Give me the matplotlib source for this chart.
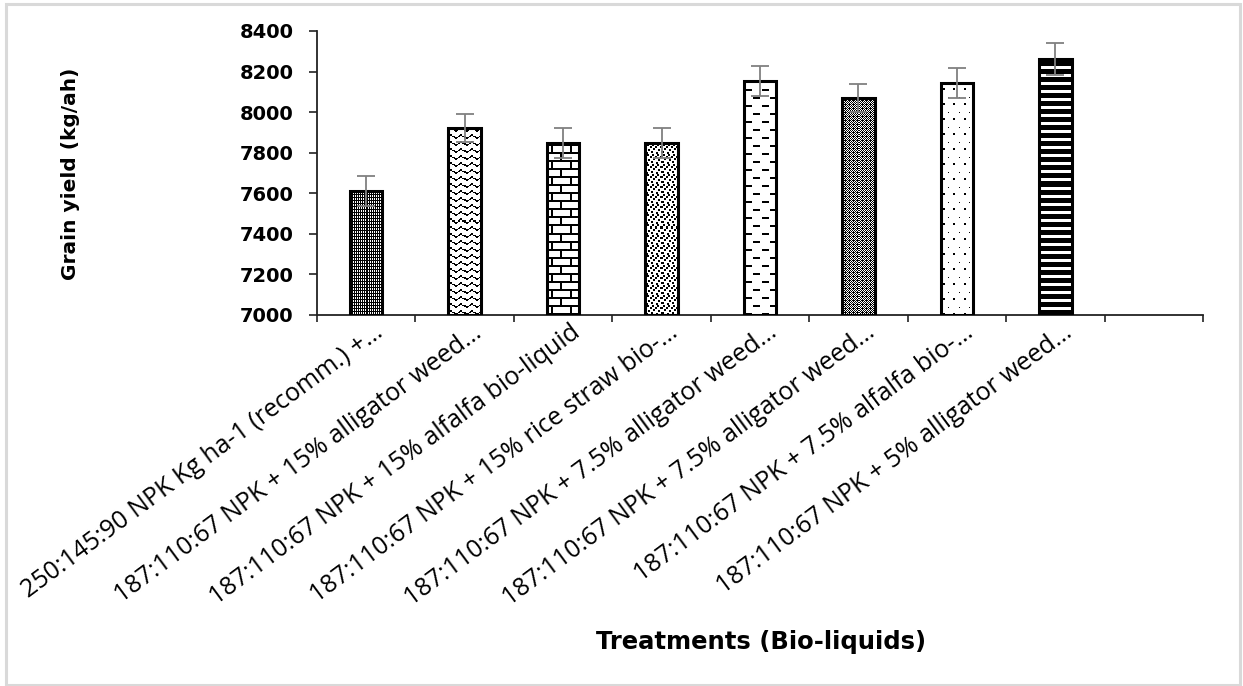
import numpy as np
import matplotlib
matplotlib.use("Agg")
import matplotlib.pyplot as plt
from matplotlib import transforms
from matplotlib.patches import Rectangle

# ---- data -------------------------------------------------------------
treatments = [
    "250:145:90 NPK Kg ha-1 (recomm.) +\u2026",
    "187:110:67 NPK + 15% alligator weed\u2026",
    "187:110:67 NPK + 15% alfalfa bio-liquid",
    "187:110:67 NPK + 15% rice straw bio-\u2026",
    "187:110:67 NPK + 7.5% alligator weed\u2026",
    "187:110:67 NPK + 7.5% alligator weed\u2026",
    "187:110:67 NPK + 7.5% alfalfa bio-\u2026",
    "187:110:67 NPK + 5% alligator weed\u2026",
]
grain_yield = [7611, 7922, 7848, 7848, 8153, 8069, 8143, 8262]
yield_err = [75, 70, 75, 75, 75, 70, 75, 78]
y_ticks = [7000, 7200, 7400, 7600, 7800, 8000, 8200, 8400]
n_slots = 9  # one empty category slot at the right end

# ---- fill patterns (1 = black pixel), tiled from the bar bottom --------
fine_grid = np.array([[1, 1, 1, 1],
                      [1, 0, 1, 0],
                      [1, 0, 1, 0]])

wave = np.zeros((7, 10))
for c in range(10):
    r = int(round(1.5 + 1.4 * np.sin(2 * np.pi * c / 10)))
    wave[r, c] = 1
    if c % 5 in (1, 2, 3):
        wave[min(r + 1, 6), c] = 1

brick = np.zeros((16, 18))
brick[0:2, :] = 1
brick[8:10, :] = 1
brick[2:8, 4:6] = 1
brick[10:16, 13:15] = 1

confetti = np.zeros((10, 10))
for (r, c) in [(0, 1), (1, 6), (3, 3), (4, 8), (6, 0), (6, 5), (8, 2), (8, 7)]:
    confetti[r:r + 2, c:c + 2] = 1

dashes = np.zeros((16, 16))
dashes[0:2, 1:8] = 1
dashes[8:10, 9:16] = 1

lattice = np.array([[1, 0, 1, 0],
                    [0, 1, 0, 1],
                    [1, 0, 1, 1],
                    [0, 1, 0, 1]])

sparse_dots = np.zeros((15, 10))
sparse_dots[0:2, 2:4] = 1
sparse_dots[7, 7] = 1

stripes = np.zeros((8, 4))
stripes[0:5, :] = 1

patterns = [fine_grid, wave, brick, confetti, dashes, lattice, sparse_dots, stripes]

# ---- figure -------------------------------------------------------------
W, H = 1243, 686
fig = plt.figure(figsize=(W / 100, H / 100), dpi=100)
ax = fig.add_axes([317 / W, 1 - 315 / H, (1203 - 317) / W, (315 - 31) / H])

base = y_ticks[0]
x = np.arange(len(treatments))
heights = np.array(grain_yield) - base
bar_w = 0.33

bars = ax.bar(x, heights, bottom=base, width=bar_w, color="white",
              edgecolor="none", zorder=2)
ax.set_xlim(-0.5, n_slots - 0.5)
ax.set_ylim(y_ticks[0], y_ticks[-1])
fig.canvas.draw()

for rect, pat in zip(bars, patterns):
    ext = rect.get_window_extent()
    wp, hp = int(round(ext.width)), int(round(ext.height))
    th, tw = pat.shape
    tex = np.tile(pat, (hp // th + 2, wp // tw + 2))[:hp, :wp]
    img = np.repeat((1.0 - tex)[:, :, None], 3, axis=2)
    x0 = rect.get_x()
    im = ax.imshow(img, extent=(x0, x0 + rect.get_width(), rect.get_y(),
                                rect.get_y() + rect.get_height()),
                   origin="lower", interpolation="nearest", aspect="auto",
                   zorder=2.5)
    im.set_clip_path(rect)

ax.bar(x, heights, bottom=base, width=bar_w, fill=False,
       edgecolor="black", linewidth=2.2, zorder=3)
ax.errorbar(x, grain_yield, yerr=yield_err, fmt="none", ecolor="#808080",
            elinewidth=1.3, capsize=6.5, capthick=1.3, zorder=4)

ax.set_xlim(-0.5, n_slots - 0.5)
ax.set_ylim(y_ticks[0], y_ticks[-1])

# axes styling
for side in ("top", "right"):
    ax.spines[side].set_visible(False)
for side in ("left", "bottom"):
    ax.spines[side].set_color("#222222")
    ax.spines[side].set_linewidth(1.3)

ax.set_yticks(y_ticks)
ax.set_yticklabels([str(v) for v in y_ticks], fontfamily="DejaVu Sans",
                   fontweight="bold", fontsize=14)
ax.tick_params(axis="y", direction="out", length=6, width=1.2, pad=11,
               color="#222222")
ax.set_xticks(np.arange(-0.5, n_slots, 1.0))
ax.set_xticklabels([])
ax.tick_params(axis="x", direction="out", length=5, width=1.2,
               color="#222222")

# rotated category labels, right end anchored near each category centre
label_tr = transforms.blended_transform_factory(ax.transData, ax.transAxes)
label_tr = label_tr + transforms.ScaledTranslation(14 / 100, -15 / 100,
                                                   fig.dpi_scale_trans)
for i, name in enumerate(treatments):
    ax.text(i, 0, name, transform=label_tr, rotation=36.5,
            rotation_mode="anchor", ha="right", va="center",
            fontfamily="Open Sans", fontsize=18, color="black")

fig.text(70 / W, 1 - 174 / H, "Grain yield (kg/ah)", rotation=90,
         ha="center", va="center", fontfamily="DejaVu Sans",
         fontweight="bold", fontsize=14.5)
fig.text(761 / W, 1 - 642 / H, "Treatments (Bio-liquids)", ha="center",
         va="center", fontfamily="DejaVu Sans", fontweight="bold",
         fontsize=17.5)

# light outer frame
fig.patches.append(Rectangle((6 / W, 1.5 / H), 1234 / W, 681 / H,
                             transform=fig.transFigure, fill=False,
                             edgecolor="#d9d9d9", linewidth=2.2))

fig.savefig("out.png", dpi=100)
